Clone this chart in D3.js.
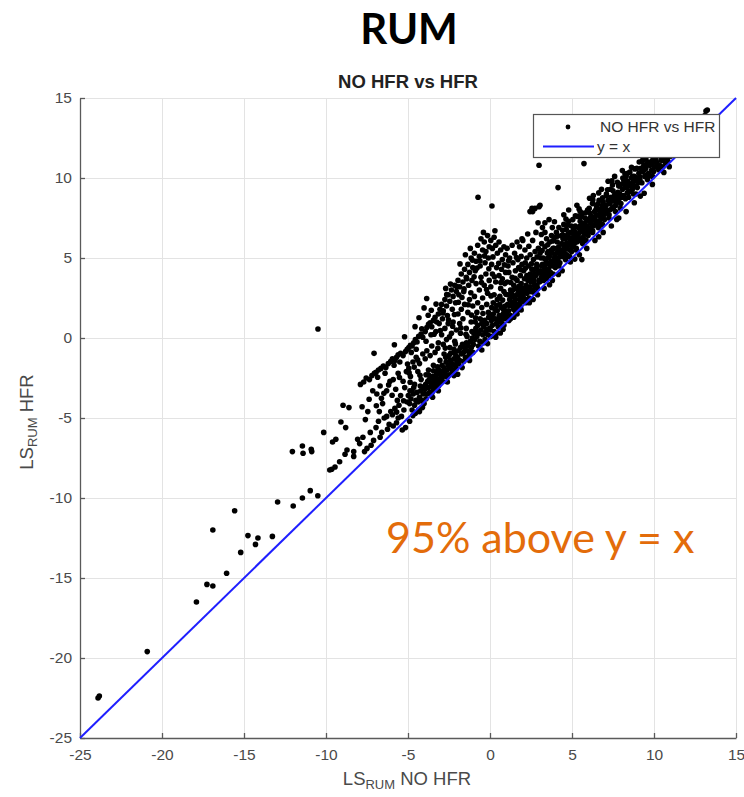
<!DOCTYPE html>
<html><head><meta charset="utf-8">
<script src="https://cdn.jsdelivr.net/npm/d3@7"></script>
<style>
html,body{margin:0;padding:0;background:#fff;}
svg{display:block;}
</style></head>
<body>
<svg id="chart" width="744" height="797"></svg>
<script>
// ---- data (LS_RUM NO HFR, LS_RUM HFR) ----
const xTicks = [-25,-20,-15,-10,-5,0,5,10,15];
const yTicks = [-25,-20,-15,-10,-5,0,5,10,15];

const tailPoints = [[-23.9,-22.5],[-23.82,-22.38],[-20.9,-19.6],[-17.9,-16.5],[-17.26,-15.4],[-16.9,-15.5],[-16.06,-14.7],[-16.9,-12.0],[-15.57,-10.8],[-15.2,-13.4],[-14.76,-12.35],[-14.3,-12.9],[-14.15,-12.5],[-13.27,-12.4],[-12.95,-10.25],[-12.0,-10.5],[-11.44,-10.0],[-10.96,-9.54],[-10.5,-9.86],[-12.05,-7.1],[-11.44,-6.75],[-11.4,-7.2],[-10.9,-6.96],[-10.87,-7.1],[-10.14,-5.9],[-9.77,-8.25],[-9.6,-6.5],[-9.4,-6.33],[-9.65,-8.2],[-9.45,-8.06],[-9.17,-7.73],[-9.09,-5.25],[-8.96,-4.2],[-8.8,-5.6],[-8.6,-4.35],[-8.72,-7.0],[-8.84,-7.27],[-8.31,-7.1],[-8.31,-7.4],[-8.07,-6.33],[-10.49,0.56]];

const leftPoints = [
[-7.9,-2.9],[-7.7,-2.75],[-7.55,-2.5],[-7.35,-2.6],[-7.2,-2.35],[-7.05,-2.2],[-7.8,-4.3],[-7.45,-4.6],[-7.15,-3.3],[-7.6,-5.1],[-7.95,-6.6],[-7.75,-6.2],[-7.5,-6.9],[-7.3,-5.9],[-7.1,-6.4],[-7.65,-7.1],[-7.25,-6.7],
[-6.95,-2.15],[-6.8,-2.0],[-6.65,-1.9],[-6.5,-1.75],[-6.35,-1.85],[-6.2,-1.6],[-6.05,-1.45],[-6.85,-2.45],[-6.4,-2.2],[-6.9,-3.5],[-6.7,-3.0],[-6.55,-4.1],[-6.3,-3.3],[-6.1,-2.7],[-6.75,-4.6],[-6.95,-5.6],[-6.8,-5.2],[-6.6,-5.9],[-6.45,-5.0],[-6.3,-4.9],[-6.15,-5.4],[-6.05,-4.6],[-6.7,-6.2],[-6.25,-5.7],
[-5.95,-1.3],[-5.8,-1.4],[-5.7,-1.2],[-5.6,-1.05],[-5.45,-0.95],[-5.3,-1.1],[-5.15,-0.85],[-5.05,-0.7],[-5.5,-1.5],[-5.85,-1.7],[-5.9,-2.6],[-5.75,-3.2],[-5.6,-2.2],[-5.45,-3.6],[-5.3,-2.7],[-5.2,-3.1],[-5.1,-2.1],[-5.65,-3.9],[-5.95,-4.8],[-5.8,-4.4],[-5.7,-5.3],[-5.55,-4.2],[-5.4,-4.9],[-5.25,-4.5],[-5.15,-5.6],[-5.05,-4.0],[-5.35,-5.75],[-5.6,-5.0],[-5.9,-5.5],
[-4.95,-0.6],[-4.85,-0.45],[-4.75,-0.5],[-4.65,-0.3],[-4.55,-0.1],[-4.45,-0.25],[-4.35,0.1],[-4.2,0.25],[-4.1,0.05],[-4.8,-0.9],[-4.5,-0.7],[-4.95,-1.9],[-4.85,-2.4],[-4.7,-1.5],[-4.6,-2.9],[-4.5,-1.2],[-4.4,-2.1],[-4.3,-1.6],[-4.2,-2.6],[-4.1,-1.0],[-4.75,-3.3],[-4.25,-3.0],
[-4.98,-3.6],[-4.9,-4.1],[-4.82,-3.8],[-4.75,-4.5],[-4.68,-3.5],[-4.6,-4.2],[-4.52,-3.9],[-4.45,-3.4],[-4.38,-4.0],[-4.3,-3.7],[-4.22,-3.3],[-4.15,-3.9],[-4.08,-3.5],[-4.02,-4.1],[-4.9,-5.2],[-4.55,-4.7],[-4.35,-4.5],[-4.12,-4.35],[-4.65,-3.1],[-4.88,-3.3],[-4.7,-4.85],[-4.3,-4.6],
[-3.95,0.4],[-3.85,0.65],[-3.75,0.85],[-3.65,0.95],[-3.55,0.7],[-3.45,1.1],[-3.35,1.3],[-3.25,1.0],[-3.15,1.5],[-3.05,1.8],[-3.9,-0.2],[-3.6,0.2],[-3.3,0.4],[-3.1,0.9],
[-3.95,-1.3],[-3.85,-0.8],[-3.75,-2.0],[-3.65,-1.1],[-3.55,-0.5],[-3.45,-1.7],[-3.35,-0.9],[-3.25,-2.2],[-3.15,-0.3],[-3.05,-1.4],[-3.7,-2.6],[-3.4,-2.5],[-3.2,-1.8],[-3.9,-2.3],
[-3.98,-3.2],[-3.92,-2.9],[-3.86,-3.5],[-3.8,-2.7],[-3.74,-3.1],[-3.68,-3.4],[-3.62,-2.8],[-3.56,-3.0],[-3.5,-2.4],[-3.44,-3.2],[-3.38,-2.7],[-3.32,-2.9],[-3.26,-2.3],[-3.2,-2.6],[-3.14,-3.0],[-3.08,-2.2],[-3.02,-2.5],[-3.9,-3.8],[-3.6,-3.55],[-3.3,-3.1],[-3.1,-2.85],[-3.75,-2.3],[-3.45,-2.05],[-3.15,-1.95],[-3.55,-3.45],[-3.5,-3.7],[-3.15,-3.3]
];

const midPoints = [
[-2.95,2.1],[-2.85,1.7],[-2.75,2.4],[-2.65,2.0],[-2.55,2.7],[-2.45,2.3],[-2.35,3.0],[-2.25,2.6],[-2.15,3.3],[-2.05,2.9],[-2.9,1.2],[-2.6,1.4],[-2.3,1.8],[-2.1,2.2],[-2.7,3.1],
[-2.95,0.2],[-2.85,-0.4],[-2.75,0.6],[-2.65,-0.1],[-2.55,0.9],[-2.45,-0.6],[-2.35,0.3],[-2.25,1.0],[-2.15,-0.2],[-2.05,0.5],[-2.8,-1.0],[-2.5,-1.1],[-2.2,-0.7],
[-2.98,-2.1],[-2.92,-1.7],[-2.86,-2.4],[-2.8,-1.9],[-2.74,-2.2],[-2.68,-1.5],[-2.62,-2.0],[-2.56,-1.7],[-2.5,-2.3],[-2.44,-1.4],[-2.38,-1.9],[-2.32,-1.6],[-2.26,-2.0],[-2.2,-1.3],[-2.14,-1.7],[-2.08,-1.1],[-2.02,-1.5],[-2.9,-2.7],[-2.6,-2.45],[-2.3,-2.15],[-2.05,-1.9],[-2.7,-1.2],[-2.4,-0.95],[-2.15,-0.9],[-2.6,-2.75],[-2.2,-2.35],
[-1.95,3.6],[-1.85,3.2],[-1.75,4.0],[-1.65,3.5],[-1.55,4.3],[-1.45,3.8],[-1.35,4.6],[-1.25,4.1],[-1.15,5.0],[-1.05,4.4],[-1.9,2.7],[-1.6,2.9],[-1.3,3.3],[-1.1,3.6],[-1.5,5.2],[-1.2,5.6],
[-1.95,1.5],[-1.85,0.9],[-1.75,1.8],[-1.65,1.2],[-1.55,2.1],[-1.45,0.6],[-1.35,1.6],[-1.25,2.4],[-1.15,1.0],[-1.05,2.0],[-1.8,0.3],[-1.4,0.1],[-1.1,0.4],
[-1.98,-1.2],[-1.92,-0.8],[-1.86,-1.4],[-1.8,-0.6],[-1.74,-1.0],[-1.68,-0.4],[-1.62,-0.9],[-1.56,-0.6],[-1.5,-1.2],[-1.44,-0.3],[-1.38,-0.8],[-1.32,-0.5],[-1.26,-0.9],[-1.2,-0.2],[-1.14,-0.6],[-1.08,0.0],[-1.02,-0.4],[-1.9,-1.6],[-1.6,-1.45],[-1.3,-1.15],[-1.05,-0.9],[-1.7,-1.85],[-1.25,-1.4],
[-0.95,5.3],[-0.85,4.8],[-0.75,5.8],[-0.65,5.1],[-0.55,6.2],[-0.45,5.5],[-0.35,6.0],[-0.25,5.4],[-0.15,6.4],[-0.05,5.7],[-0.9,4.2],[-0.6,4.5],[-0.3,4.7],[-0.1,5.0],[-0.73,8.8],[-0.4,6.6],
[-0.95,2.6],[-0.85,3.4],[-0.75,2.2],[-0.65,3.0],[-0.55,3.8],[-0.45,2.5],[-0.35,3.3],[-0.25,4.0],[-0.15,2.8],[-0.05,3.6],[-0.8,1.6],[-0.5,1.9],[-0.2,2.1],
[-0.98,0.3],[-0.92,-0.1],[-0.86,0.6],[-0.8,0.1],[-0.74,0.8],[-0.68,0.3],[-0.62,-0.2],[-0.56,0.5],[-0.5,0.9],[-0.44,0.2],[-0.38,0.7],[-0.32,1.1],[-0.26,0.4],[-0.2,0.9],[-0.14,0.2],[-0.08,1.3],[-0.02,0.6],[-0.9,1.0],[-0.6,1.2],[-0.3,-0.1],[-0.1,1.6],[-0.7,-0.5],[-0.4,-0.3],[-0.5,-0.75],[-0.15,-0.35],
[0.05,6.1],[0.15,5.6],[0.25,6.3],[0.35,5.8],[0.45,5.3],[0.55,6.0],[0.65,5.5],[0.75,4.9],[0.85,5.7],[0.95,5.2],[0.1,4.6],[0.4,4.4],[0.7,4.3],[0.12,8.25],[0.3,6.7],
[0.05,3.2],[0.15,4.0],[0.25,2.7],[0.35,3.5],[0.45,2.4],[0.55,3.9],[0.65,3.1],[0.75,3.7],[0.85,2.9],[0.95,4.1],[0.2,2.2],[0.6,2.6],[0.9,3.4],
[0.02,0.5],[0.08,1.1],[0.14,0.8],[0.2,1.5],[0.26,0.4],[0.32,1.2],[0.38,0.9],[0.44,1.7],[0.5,0.7],[0.56,1.4],[0.62,1.0],[0.68,1.9],[0.74,0.9],[0.8,1.5],[0.86,1.2],[0.92,2.0],[0.98,1.3],[0.1,1.9],[0.4,0.3],[0.7,1.3],[0.95,1.7],[0.3,1.8],[0.6,2.1],[0.85,0.8],[0.05,0.1],[0.35,0.05],[0.8,0.55],
[1.05,5.6],[1.2,5.0],[1.35,5.8],[1.5,5.3],[1.65,6.0],[1.8,5.7],[1.95,6.2],[1.1,4.5],[1.4,4.7],[1.7,4.9],[1.9,5.1],
[1.05,3.5],[1.15,4.1],[1.25,3.0],[1.35,3.8],[1.45,3.3],[1.55,4.2],[1.65,3.6],[1.75,4.4],[1.85,3.9],[1.95,4.6],[1.3,2.8],[1.6,3.1],[1.9,3.4],
[1.02,1.5],[1.08,2.1],[1.14,1.7],[1.2,2.4],[1.26,1.4],[1.32,2.0],[1.38,2.6],[1.44,1.8],[1.5,2.3],[1.56,1.6],[1.62,2.7],[1.68,2.1],[1.74,2.9],[1.8,2.4],[1.86,1.9],[1.92,2.8],[1.98,2.3],[1.1,2.7],[1.4,3.0],[1.7,1.8],[1.95,3.1],[1.25,1.2],[1.55,2.0],[1.85,2.6],[1.15,1.1],[1.65,1.5],[1.45,1.3],[1.9,1.75]
];

const rightPoints = [
[2.0,6.1],[2.13,5.5],[2.24,5.0],[2.6,6.1],[2.74,8.1],[2.44,7.9],[2.56,8.1],[2.6,7.9],[2.93,7.2],[2.99,8.2],[2.99,10.8],[2.3,6.5],[2.8,6.6],
[2.05,4.2],[2.15,4.7],[2.25,3.9],[2.35,4.5],[2.45,5.2],[2.55,4.3],[2.65,4.9],[2.75,5.4],[2.85,4.6],[2.95,5.6],[2.4,3.7],[2.7,4.0],
[2.02,2.6],[2.08,3.1],[2.14,2.4],[2.2,3.3],[2.26,2.8],[2.32,3.6],[2.38,2.5],[2.44,3.2],[2.5,2.9],[2.56,3.8],[2.62,3.0],[2.68,3.5],[2.74,2.8],[2.8,3.9],[2.86,3.3],[2.92,4.1],[2.98,3.6],[2.1,3.7],[2.3,2.4],[2.5,3.5],[2.7,4.3],[2.9,3.1],[2.2,2.2],[2.6,2.9],[2.85,4.4],[2.45,4.0],[2.65,3.7],[2.15,2.9],[2.4,2.2],[2.9,2.7],
[3.05,8.3],[3.35,7.2],[3.35,6.6],[3.2,6.9],[3.6,7.4],[3.8,6.9],
[3.05,5.3],[3.15,5.9],[3.25,5.0],[3.35,5.7],[3.45,6.2],[3.55,5.4],[3.65,6.0],[3.75,6.4],[3.85,5.6],[3.95,6.3],
[3.02,3.5],[3.08,4.2],[3.14,3.8],[3.2,4.6],[3.26,3.6],[3.32,4.4],[3.38,4.9],[3.44,4.0],[3.5,4.7],[3.56,4.3],[3.62,5.1],[3.68,4.1],[3.74,4.8],[3.8,5.3],[3.86,4.5],[3.92,5.0],[3.98,4.4],[3.1,5.0],[3.3,3.9],[3.5,5.3],[3.7,4.5],[3.9,5.6],[3.15,4.5],[3.4,4.6],[3.6,3.9],[3.85,4.0],[3.25,4.1],[3.55,5.0],[3.75,5.5],[3.95,4.8],[3.45,3.7],[3.3,3.1],[3.8,3.6],
[4.15,9.4],[4.5,7.7],[4.8,8.0],
[4.05,6.6],[4.2,6.9],[4.35,6.4],[4.5,7.1],[4.65,6.8],[4.8,7.3],[4.95,7.0],[4.1,6.0],[4.45,6.2],[4.75,6.5],
[4.02,4.6],[4.08,5.3],[4.14,4.9],[4.2,5.7],[4.26,4.7],[4.32,5.5],[4.38,5.9],[4.44,5.1],[4.5,5.8],[4.56,5.3],[4.62,6.2],[4.68,5.2],[4.74,5.9],[4.8,6.3],[4.86,5.5],[4.92,6.1],[4.98,5.4],[4.1,5.6],[4.3,5.1],[4.5,6.4],[4.7,5.6],[4.9,6.6],[4.2,4.5],[4.6,4.9],[4.85,5.1],[4.4,5.4],[4.65,5.9],[4.95,5.8],[4.05,5.0],[4.55,5.6],[4.4,4.2],[4.9,4.75],
[5.73,10.9],[5.3,8.3],[5.5,7.9],
[5.05,7.4],[5.2,7.0],[5.35,7.6],[5.5,7.3],[5.65,7.8],[5.8,7.5],[5.95,8.0],
[5.02,5.7],[5.08,6.3],[5.14,5.9],[5.2,6.6],[5.26,5.6],[5.32,6.4],[5.38,6.9],[5.44,6.1],[5.5,6.7],[5.56,6.2],[5.62,7.1],[5.68,6.3],[5.74,6.9],[5.8,7.2],[5.86,6.5],[5.92,7.0],[5.98,6.4],[5.1,6.8],[5.3,6.0],[5.5,7.0],[5.7,6.6],[5.9,7.4],[5.25,5.5],[5.65,5.9],[5.85,6.1],[5.4,6.5],[5.6,6.9],[5.95,6.8],[5.15,6.2],[5.6,4.9],[5.45,5.2],[5.9,5.6],
[6.3,8.9],[6.8,9.3],[6.05,8.1],[6.25,8.4],[6.45,8.0],[6.65,8.6],[6.85,8.3],
[6.02,6.8],[6.08,7.3],[6.14,6.9],[6.2,7.6],[6.26,6.7],[6.32,7.4],[6.38,7.9],[6.44,7.1],[6.5,7.7],[6.56,7.2],[6.62,8.0],[6.68,7.3],[6.74,7.8],[6.8,8.1],[6.86,7.5],[6.92,8.0],[6.98,7.4],[6.1,7.8],[6.3,7.0],[6.5,8.2],[6.7,7.6],[6.9,8.5],[6.25,6.6],[6.6,6.9],[6.85,7.1],[6.4,7.5],[6.95,7.7],[6.15,7.2],[6.4,6.1],[6.9,6.6],
[7.2,9.8],[7.6,10.1],[7.1,9.0],[7.35,9.3],[7.6,8.9],[7.85,9.5],
[7.02,7.8],[7.08,8.3],[7.14,7.9],[7.2,8.6],[7.26,7.7],[7.32,8.4],[7.38,8.8],[7.44,8.1],[7.5,8.6],[7.56,8.2],[7.62,9.0],[7.68,8.3],[7.74,8.8],[7.8,9.1],[7.86,8.5],[7.92,9.0],[7.98,8.4],[7.1,8.9],[7.3,8.0],[7.5,9.2],[7.7,8.6],[7.9,9.5],[7.25,7.5],[7.65,7.9],[7.95,8.1],[7.4,7.0],[7.85,7.5],
[8.1,10.0],[8.4,10.3],[8.7,10.1],[8.95,10.6],
[8.02,8.8],[8.08,9.3],[8.14,8.9],[8.2,9.6],[8.26,8.7],[8.32,9.4],[8.38,9.8],[8.44,9.1],[8.5,9.6],[8.56,9.2],[8.62,10.0],[8.68,9.3],[8.74,9.8],[8.8,10.1],[8.86,9.5],[8.92,10.0],[8.98,9.4],[8.3,10.1],[8.6,9.5],[8.9,9.0],[8.15,9.9],[8.45,8.8],[8.75,9.0],[8.3,7.9],[8.8,8.45],
[9.1,11.0],[9.5,11.2],[9.85,11.4],
[9.02,9.7],[9.08,10.3],[9.14,9.9],[9.2,10.6],[9.26,9.7],[9.32,10.4],[9.38,10.8],[9.44,10.1],[9.5,10.6],[9.56,10.2],[9.62,11.0],[9.68,10.3],[9.74,10.8],[9.8,11.0],[9.86,10.5],[9.92,11.1],[9.98,10.4],[9.3,11.1],[9.6,9.9],[9.9,10.1],[9.4,9.05],[9.9,9.6],
[10.02,10.7],[10.1,11.2],[10.18,10.9],[10.26,11.5],[10.34,10.8],[10.42,11.7],[10.5,11.1],[10.58,11.9],[10.66,11.3],[10.74,12.0],[10.82,11.5],[10.9,12.2],[10.98,11.6],[10.3,10.5],[10.7,10.95],[10.15,11.0],[10.55,10.7],[10.85,11.05],[10.6,10.35],
[11.05,11.9],[11.2,12.4],[11.35,12.1],[11.5,12.8],[11.65,12.3],[11.8,13.0],[11.95,12.6],[11.1,11.5],[11.4,11.7],[11.7,11.95],[11.3,12.9],[11.85,12.2],
[12.1,12.9],[12.3,13.5],[12.5,13.2],[12.7,13.8],[12.9,13.4],[13.1,13.9],[13.17,14.19],[13.25,14.25],[12.4,12.75],[12.8,13.05]
];

const edgePoints = [
[-7.07,-0.96],[-6.62,-3.77],[-6.18,-2.93],[-5.83,-0.42],[-5.52,-2.47],[-5.21,0.08],[-5.03,-1.63],[-4.87,-2.77],[-4.57,0.71],[-4.41,-1.37],[-4.33,1.27],[-4.16,0.58],[-4.02,1.88],[-3.86,2.47],[-3.77,1.42],[-3.58,1.73],[-3.41,0.23],[-3.29,2.12],[-3.18,-0.64],[-3.03,0.47],[-7.37,-3.83],[-6.93,-4.23],[-6.47,-3.46],[-5.97,-3.58],[-5.69,-4.63],[-5.27,-3.92],[-4.93,-2.18],[-4.62,-1.82],[-4.27,-2.33],[-4.07,-3.06],
[-2.87,1.56],[-2.64,2.71],[-2.53,1.13],[-2.41,3.37],[-2.28,0.73],[-2.17,1.47],[-2.03,3.21],[-1.93,2.23],[-1.83,4.63],[-1.71,2.53],[-1.58,3.07],[-1.42,3.71],[-1.33,2.08],[-1.17,2.83],[-1.08,4.87],[-0.97,3.83],[-0.88,1.27],[-0.79,4.37],[-0.61,4.81],[-0.52,3.47],[-0.43,1.53],[-0.33,5.13],[-0.21,3.03],[-0.07,4.33],[0.06,2.63],[0.18,5.07],[0.27,3.83],[0.41,2.03],[0.53,4.67],[0.66,3.47],[0.77,2.37],[0.88,4.57],[0.97,2.73],[1.13,4.83],[1.27,3.47],[1.38,2.17],[1.53,3.73],[1.61,5.03],[1.77,3.23],[1.88,4.27],
[-2.73,-0.63],[-2.47,0.07],[-2.11,-0.37],[-1.78,0.63],[-1.47,0.23],[-1.13,1.43],[-0.83,0.37],[-0.47,1.07],[-0.17,0.53],[0.13,1.37],[0.47,1.13],[0.83,1.77],[1.17,2.03],[1.53,2.47],[1.83,2.13],
[2.17,4.37],[2.33,3.07],[2.52,4.63],[2.71,3.27],[2.87,5.07],[3.03,4.07],[3.18,5.47],[3.37,4.27],[3.52,5.83],[3.69,4.63],[3.83,6.07],[3.97,5.23],[4.13,6.37],[4.27,5.37],[4.43,6.73],[4.58,5.07],[4.73,7.07],[4.88,5.83],[5.07,6.53],[5.21,7.63],[5.37,6.27],[5.53,7.57],[5.69,6.07],[5.83,7.83],[5.97,6.63],[6.13,7.53],[6.27,8.63],[6.43,7.33],[6.57,8.37],[6.73,7.07],[6.87,8.77],[7.03,8.07],[7.17,9.27],[7.33,8.63],[7.47,9.57],[7.63,8.53],[7.77,9.73],[7.93,8.77],[8.07,9.63],[8.23,10.27],[8.37,9.07],[8.53,10.37],[8.67,9.67],[8.83,10.57],[8.97,9.83],[9.13,10.07],[9.27,11.03],[9.43,10.53],[9.57,10.87],[9.73,10.17],[9.87,10.93],[10.07,11.33],[10.23,10.63],[10.43,11.13],[10.63,11.53],[10.83,11.27],[11.03,11.37],[11.23,12.03],[11.43,12.43],[11.63,11.87],[11.83,12.67],[12.03,12.43],[12.23,13.07],[12.63,13.37],
[2.37,5.73],[3.13,6.47],[3.93,7.27],[4.63,7.43],[5.43,8.07],[6.07,8.73],[6.63,9.07],[7.43,9.83],[8.07,10.47],[8.63,10.67],
[3.63,3.33],[5.17,4.93],[6.63,6.33],[7.73,7.41],[9.17,8.87],[10.93,10.71],[-1.97,-2.27],[0.63,0.31],[2.63,2.41],[4.17,3.97]
];

const identityLine = [[-25,-25],[15,15]];
const legendLabels = ["NO HFR vs HFR","y = x"];
const chartTitle = "RUM";
const subTitle = "NO HFR vs HFR";
const annotation = "95% above y = x";

const points = tailPoints.concat(leftPoints, midPoints, rightPoints, edgePoints);

// ---- layout ----
const svg = d3.select("#chart");
const L = 80, R = 736, T = 98, B = 738;
const x = d3.scaleLinear().domain([-25,15]).range([L,R]);
const y = d3.scaleLinear().domain([-25,15]).range([B,T]);
const fontAx = "'Liberation Sans', Arial, sans-serif";
const fontTitle = "Lato, 'Open Sans', sans-serif";
const plainFmt = d => String(d);

// grid
const grid = svg.append("g").attr("stroke","#e3e3e3").attr("stroke-width",1);
grid.selectAll(".gx").data(xTicks).join("line")
  .attr("x1",d=>Math.round(x(d))+0.5).attr("x2",d=>Math.round(x(d))+0.5).attr("y1",T).attr("y2",B);
grid.selectAll(".gy").data(yTicks).join("line")
  .attr("y1",d=>Math.round(y(d))+0.5).attr("y2",d=>Math.round(y(d))+0.5).attr("x1",L).attr("x2",R);

// axes
const ax = svg.append("g").attr("transform",`translate(0,${B})`)
  .call(d3.axisBottom(x).tickValues(xTicks).tickFormat(plainFmt).tickSize(-5).tickPadding(11).tickSizeOuter(0));
const ay = svg.append("g").attr("transform",`translate(${L},0)`)
  .call(d3.axisLeft(y).tickValues(yTicks).tickFormat(plainFmt).tickSize(-5).tickPadding(8).tickSizeOuter(0));
[ax,ay].forEach(g=>{
  g.select(".domain").attr("stroke","#5a5a5a").attr("stroke-width",1.3);
  g.selectAll(".tick line").attr("stroke","#5a5a5a").attr("stroke-width",1.3);
  g.selectAll(".tick text").attr("fill","#4a4a4a").attr("font-size",15.5).attr("font-family",fontAx);
});

// points
svg.append("g").selectAll("circle").data(points).join("circle")
  .attr("cx",d=>x(d[0])).attr("cy",d=>y(d[1])).attr("r",2.8).attr("fill","#000");

// y = x line
svg.append("path").datum(identityLine)
  .attr("d",d3.line().x(d=>x(d[0])).y(d=>y(d[1])))
  .attr("stroke","#1f1fff").attr("stroke-width",2).attr("fill","none");

// legend
const lg = svg.append("g");
lg.append("rect").attr("x",533.5).attr("y",114.5).attr("width",186).attr("height",43)
  .attr("fill","#fff").attr("stroke","#555").attr("stroke-width",1.2);
lg.append("circle").attr("cx",568).attr("cy",127).attr("r",2.4).attr("fill","#000");
lg.append("line").attr("x1",543).attr("x2",594).attr("y1",146.5).attr("y2",146.5)
  .attr("stroke","#1f1fff").attr("stroke-width",2);
lg.selectAll("text").data(legendLabels).join("text")
  .attr("x",(d,i)=>i===0?600:597).attr("y",(d,i)=>i===0?132:152)
  .attr("font-size",15.5).attr("font-family",fontAx).attr("fill","#333").text(d=>d);

// titles
svg.append("text").attr("x",409).attr("y",44).attr("text-anchor","middle")
  .attr("font-family",fontTitle).attr("font-weight","bold").attr("font-size",42).attr("fill","#000")
  .text(chartTitle);
svg.append("text").attr("x",408).attr("y",88).attr("text-anchor","middle")
  .attr("font-family",fontAx).attr("font-weight","bold").attr("font-size",18.5).attr("fill","#222")
  .text(subTitle);

// x label
const xl = svg.append("text").attr("x",407).attr("y",785).attr("text-anchor","middle")
  .attr("font-family",fontAx).attr("font-size",18.5).attr("fill","#4a4a4a");
xl.append("tspan").text("LS");
xl.append("tspan").attr("font-size",13).attr("dy",4).text("RUM");
xl.append("tspan").attr("dy",-4).text(" NO HFR");

// y label
const yl = svg.append("text").attr("transform","translate(33,422) rotate(-90)").attr("text-anchor","middle")
  .attr("font-family",fontAx).attr("font-size",18.5).attr("fill","#4a4a4a");
yl.append("tspan").text("LS");
yl.append("tspan").attr("font-size",13).attr("dy",4).text("RUM");
yl.append("tspan").attr("dy",-4).text(" HFR");

// annotation
svg.append("text").attr("x",386).attr("y",553)
  .attr("font-family",fontTitle).attr("font-size",43).attr("fill","#E36C0A")
  .text(annotation);
</script>
</body></html>
